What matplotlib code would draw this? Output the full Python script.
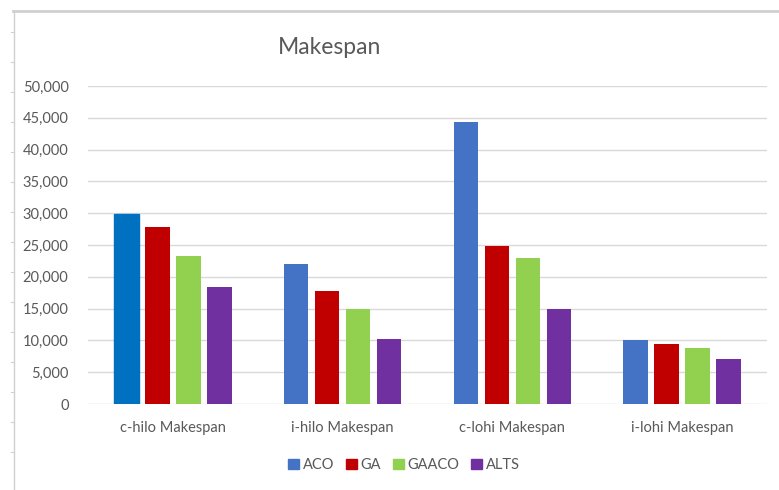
"""
Makespan comparison of ACO, GA, GAACO and ALTS over four instance groups.
"""
import matplotlib
matplotlib.use("Agg")
import matplotlib.pyplot as plt
import numpy as np
from matplotlib.lines import Line2D
from matplotlib.patches import Patch
from matplotlib.ticker import FuncFormatter

plt.rcParams['font.family'] = ['Lato', 'DejaVu Sans']

TEXT_COLOR = '#595959'
GRID_COLOR = '#D9D9D9'

categories = ['c-hilo Makespan', 'i-hilo Makespan', 'c-lohi Makespan', 'i-lohi Makespan']
series_names = ['ACO', 'GA', 'GAACO', 'ALTS']
aco = [29800, 22000, 44400, 10000]
ga = [27900, 17750, 24850, 9500]
gaaco = [23200, 14950, 22900, 8800]
alts = [18450, 10200, 14900, 7150]
colors = ['#4472C4', '#C00000', '#92D050', '#7030A0']

values = [aco, ga, gaaco, alts]

W, H = 779, 490
fig = plt.figure(figsize=(W / 100, H / 100), dpi=100)

# outer frame of the screenshot (top and left edge only)
fig.add_artist(Line2D([13 / W, 1], [1 - 11 / H, 1 - 11 / H], color='#D0D0D0', lw=2))
fig.add_artist(Line2D([14 / W, 14 / W], [0, 1 - 11 / H], color='#D0D0D0', lw=1))
for yy in range(32, 480, 30):
    fig.add_artist(Line2D([11 / W, 14 / W], [1 - yy / H, 1 - yy / H], color='#D0D0D0', lw=0.8))

ax = fig.add_axes([88 / W, 86 / H, (767 - 88) / W, (404 - 86) / H])

x = np.arange(len(categories))
slot = 0.1826
bar_w = 0.144
for i, (name, vals, col) in enumerate(zip(series_names, values, colors)):
    bars = ax.bar(x + (i - 1.5) * slot, vals, width=bar_w, color=col, zorder=3)
    if i == 0:
        # the first ACO bar is drawn in a slightly different blue in the source
        bars[0].set_color('#0070C0')

ax.set_xlim(-0.5, len(categories) - 0.5)
ax.set_ylim(0, 50000)
ax.set_yticks(np.arange(0, 50001, 5000))
ax.yaxis.set_major_formatter(FuncFormatter(lambda v, _: f'{int(v):,}'))
ax.set_xticks(x)
ax.set_xticklabels(categories)
ax.grid(axis='y', color=GRID_COLOR, lw=1, zorder=0)
ax.tick_params(axis='both', length=0, labelsize=10.5, labelcolor=TEXT_COLOR)
ax.tick_params(axis='x', pad=12)
ax.tick_params(axis='y', pad=14)
for s in ax.spines.values():
    s.set_visible(False)

fig.text(330 / W, 1 - 48 / H, 'Makespan', ha='center', va='center',
         fontsize=16.5, color=TEXT_COLOR)

handles = [Patch(color=c, label=n) for n, c in zip(series_names, colors)]
fig.legend(handles=handles, loc='center', bbox_to_anchor=(404 / W, 1 - 465 / H), ncol=4,
           frameon=False, handlelength=0.75, handleheight=0.75,
           handletextpad=0.25, columnspacing=0.8, fontsize=10.5,
           labelcolor=TEXT_COLOR)

plt.savefig('out.png', dpi=100)
plt.close(fig)
